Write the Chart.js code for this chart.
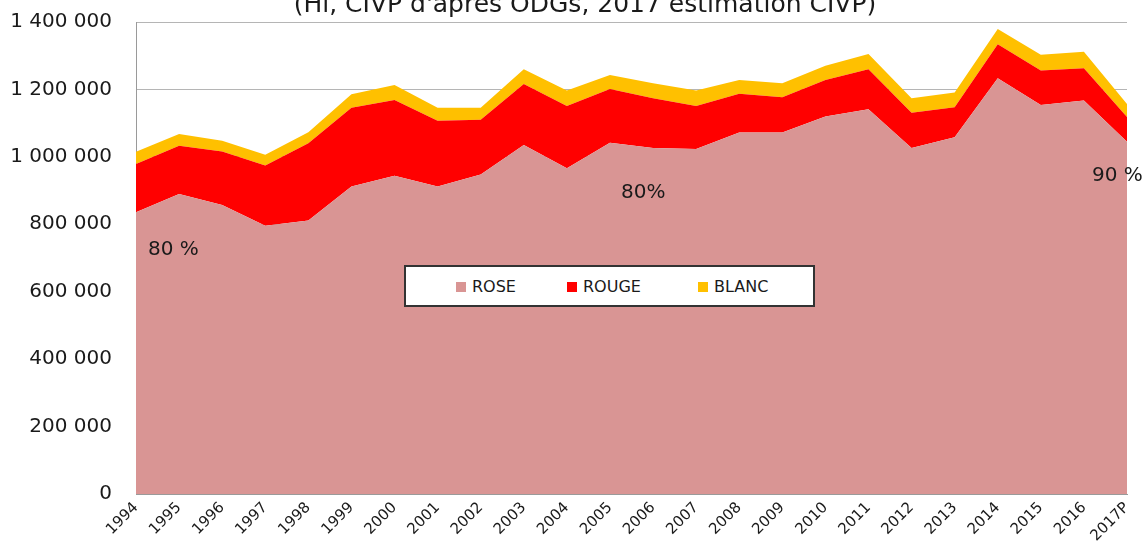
<!DOCTYPE html>
<html>
<head>
<meta charset="utf-8">
<script src="https://cdn.jsdelivr.net/npm/chart.js@4.4.1/dist/chart.umd.min.js"></script>
<style>
  html, body { margin: 0; padding: 0; background: #fff; overflow: hidden; }
  #wrap { position: relative; width: 1148px; height: 543px; overflow: hidden; }
  canvas { position: absolute; left: 0; top: 0; }
  .title { position: absolute; left: 0; top: -9px; width: 1170px; text-align: center;
           font-family: "DejaVu Sans", sans-serif; font-size: 25px; line-height: 25px; color: #1a1a1a; white-space: nowrap; }
  .note { position: absolute; font-family: "DejaVu Sans", sans-serif; font-size: 20px; line-height: 20px; color: #1a1a1a; white-space: nowrap; }
  #legend { position: absolute; left: 404px; top: 265px; width: 407px; height: 38px; background: #fff;
            border: 2px solid #333; font-family: "DejaVu Sans", sans-serif; font-size: 16px; color: #1a1a1a; }
  .li { position: absolute; top: 11px; height: 17px; line-height: 17px; white-space: nowrap; }
  .sw { display: inline-block; width: 10px; height: 10px; margin-right: 6px; vertical-align: 0px; }
</style>
</head>
<body>
<div id="wrap">
  <canvas id="c" width="1148" height="543"></canvas>
  <div class="title">(Hl, CIVP d'après ODGs, 2017 estimation CIVP)</div>
  <div id="legend"></div>
  <div class="note" style="left:148px; top:238px;">80 %</div>
  <div class="note" style="left:621px; top:181px;">80%</div>
  <div class="note" style="left:1092px; top:164px;">90 %</div>
</div>
<script>
const categories = ["1994","1995","1996","1997","1998","1999","2000","2001","2002","2003","2004","2005",
                    "2006","2007","2008","2009","2010","2011","2012","2013","2014","2015","2016","2017P"];
const rose  = [836000, 890000, 857000, 796000, 811000, 912000, 944000, 912000, 948000, 1035000, 966000, 1042000,
               1026000, 1023000, 1072000, 1072000, 1120000, 1141000, 1026000, 1058000, 1233000, 1154000, 1167000, 1045000];
const rouge = [143000, 143000, 159000, 178000, 229000, 234000, 225000, 195000, 162000, 181000, 185000, 159000,
               148000, 128000, 115000, 105000, 108000, 119000, 105000, 89000, 101000, 102000, 96000, 73000];
const blanc = [36000, 35000, 32000, 32000, 33000, 40000, 44000, 39000, 36000, 44000, 46000, 42000,
               44000, 46000, 41000, 41000, 42000, 45000, 43000, 44000, 45000, 47000, 49000, 39000];
const yTicks = [0, 200000, 400000, 600000, 800000, 1000000, 1200000, 1400000];

const seriesNames = ["ROSE", "ROUGE", "BLANC"];
const seriesColors = ["#d99594", "#ff0000", "#ffc000"];
const seriesData = [rose, rouge, blanc];

function fmt(v) {
  return String(v).replace(/\B(?=(\d{3})+(?!\d))/g, " ");
}

const datasets = seriesData.map((d, i) => ({
  label: seriesNames[i],
  data: d,
  backgroundColor: seriesColors[i],
  borderColor: seriesColors[i],
  borderWidth: 0,
  pointRadius: 0,
  tension: 0,
  fill: i === 0 ? 'origin' : '-1'
}));

new Chart(document.getElementById('c'), {
  type: 'line',
  data: { labels: categories, datasets },
  options: {
    responsive: false,
    animation: false,
    layout: { padding: { top: 22, right: 21, left: 0, bottom: 0 } },
    plugins: { legend: { display: false }, tooltip: { enabled: false } },
    scales: {
      x: {
        offset: false,
        grid: { display: false, drawTicks: false },
        border: { display: true, color: '#9a9a9a', width: 1 },
        ticks: { minRotation: 45, maxRotation: 45, autoSkip: false, padding: 5,
                 font: { family: 'DejaVu Sans', size: 15 }, color: '#1a1a1a' },
        afterFit: s => { s.height = 49; }
      },
      y: {
        stacked: true,
        min: 0, max: 1400000,
        afterBuildTicks: s => { s.ticks = yTicks.map(v => ({ value: v })); },
        grid: { color: '#b5b5b5', drawTicks: false, lineWidth: 1 },
        border: { display: true, color: '#9a9a9a', width: 1 },
        ticks: { padding: 24, callback: v => fmt(v),
                 font: { family: 'DejaVu Sans', size: 20 }, color: '#1a1a1a' },
        afterFit: s => { s.width = 136; s.paddingTop = 0; s.paddingBottom = 0; }
      }
    }
  }
});

const lg = document.getElementById('legend');
const lpos = [50, 161, 292];
seriesNames.forEach((n, i) => {
  const el = document.createElement('div');
  el.className = 'li';
  el.style.left = lpos[i] + 'px';
  el.innerHTML = '<span class="sw" style="background:' + seriesColors[i] + '"></span>' + n;
  lg.appendChild(el);
});
</script>
</body>
</html>
